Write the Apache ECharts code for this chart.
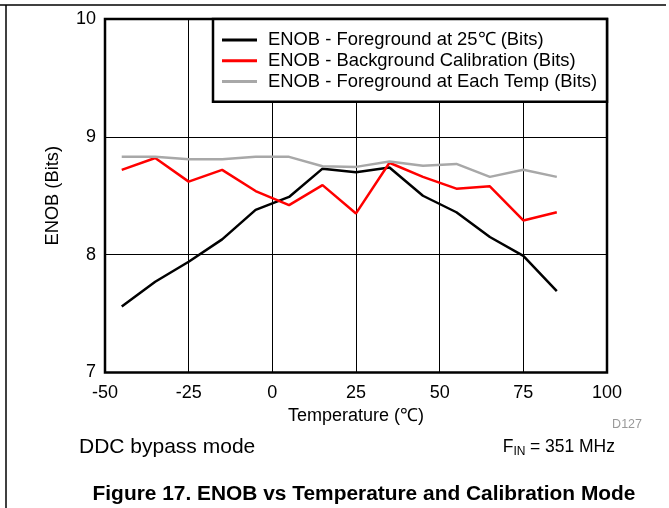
<!DOCTYPE html>
<html>
<head>
<meta charset="utf-8">
<script src="https://cdn.jsdelivr.net/npm/echarts@6/dist/echarts.min.js"></script>
<style>
html,body{margin:0;padding:0;background:#fff;}
#c{width:669px;height:508px;}
</style>
</head>
<body>
<div id="c"></div>
<script>
const temps = [-45, -35, -25, -15, -5, 5, 15, 25, 35, 45, 55, 65, 75, 85];
const fgAt25 = [7.56, 7.77, 7.94, 8.13, 8.38, 8.49, 8.73, 8.70, 8.74, 8.50, 8.36, 8.15, 7.99, 7.69];
const bgCal = [8.72, 8.82, 8.62, 8.72, 8.54, 8.42, 8.59, 8.35, 8.78, 8.66, 8.56, 8.58, 8.29, 8.36];
const fgEach = [8.83, 8.83, 8.81, 8.81, 8.83, 8.83, 8.75, 8.745, 8.79, 8.755, 8.77, 8.66, 8.72, 8.66];
const seriesNames = ['ENOB - Foreground at 25\u2103 (Bits)', 'ENOB - Background Calibration (Bits)', 'ENOB - Foreground at Each Temp (Bits)'];
const xTicks = [-50, -25, 0, 25, 50, 75, 100];
const yTicks = [7, 8, 9, 10];

const FONT = '"Liberation Sans", Arial, Helvetica, sans-serif';
const chart = echarts.init(document.getElementById('c'), null, {renderer: 'canvas'});
const pair = arr => temps.map((t, i) => [t, arr[i]]);
const colors = ['#000000', '#ff0000', '#a8a8a8'];
const datas = [fgAt25, bgCal, fgEach];

chart.setOption({
  animation: false,
  backgroundColor: '#fff',
  textStyle: {fontFamily: FONT},
  grid: {left: 105, right: 62, top: 19, bottom: 135.5, show: true, borderColor: '#000', borderWidth: 2.5, backgroundColor: 'transparent'},
  xAxis: {
    type: 'value', min: xTicks[0], max: xTicks[xTicks.length - 1], interval: 25,
    axisLine: {show: false}, axisTick: {show: false},
    axisLabel: {fontSize: 18, color: '#000', margin: 12, fontFamily: FONT},
    splitLine: {show: true, lineStyle: {color: '#000', width: 1}},
    name: 'Temperature (\u2103)', nameLocation: 'middle', nameGap: 31,
    nameTextStyle: {fontSize: 18, color: '#000', fontFamily: FONT}
  },
  yAxis: {
    type: 'value', min: yTicks[0], max: yTicks[yTicks.length - 1], interval: 1,
    axisLine: {show: false}, axisTick: {show: false},
    axisLabel: {fontSize: 18, color: '#000', margin: 9, fontFamily: FONT},
    splitLine: {show: true, lineStyle: {color: '#000', width: 1}},
    name: 'ENOB (Bits)', nameLocation: 'middle', nameGap: 43,
    nameTextStyle: {fontSize: 18.3, color: '#000', fontFamily: FONT}
  },
  legend: {
    show: true, orient: 'vertical', left: 222, top: 29.5, padding: 0, itemGap: 0,
    itemWidth: 35, itemHeight: 3, icon: 'rect', z: 10,
    textStyle: {fontSize: 18.4, color: '#000', lineHeight: 20.8, fontFamily: FONT, padding: [0, 0, 0, 6]},
    data: seriesNames
  },
  graphic: [
    {type: 'line', z: 10, shape: {x1: 0, y1: 5, x2: 666, y2: 5}, style: {stroke: '#000', lineWidth: 1.5}},
    {type: 'line', z: 10, shape: {x1: 6, y1: 5, x2: 6, y2: 508}, style: {stroke: '#000', lineWidth: 1.5}},
    {type: 'rect', z: 3, shape: {x: 213, y: 19, width: 394, height: 82.7}, style: {fill: '#fff', stroke: '#000', lineWidth: 2.5}},
    {type: 'text', z: 10, x: 642, y: 425, style: {text: 'D127', fill: '#999', font: '12.5px ' + FONT, textAlign: 'right', textVerticalAlign: 'middle'}},
    {type: 'text', z: 10, x: 79, y: 447, style: {text: 'DDC bypass mode', fill: '#000', font: '21px ' + FONT, textAlign: 'left', textVerticalAlign: 'middle'}},
    {type: 'text', z: 10, x: 615, y: 447, style: {text: '= 351 MHz', fill: '#000', font: '17.5px ' + FONT, textAlign: 'right', textVerticalAlign: 'middle'}},
    {type: 'text', z: 10, x: 525.5, y: 451.5, style: {text: 'IN', fill: '#000', font: '12px ' + FONT, textAlign: 'right', textVerticalAlign: 'middle'}},
    {type: 'text', z: 10, x: 513.5, y: 447, style: {text: 'F', fill: '#000', font: '17.5px ' + FONT, textAlign: 'right', textVerticalAlign: 'middle'}},
    {type: 'text', z: 10, x: 364, y: 494, style: {text: 'Figure 17. ENOB vs Temperature and Calibration Mode', fill: '#000', font: 'bold 20.9px ' + FONT, textAlign: 'center', textVerticalAlign: 'middle'}}
  ],
  series: seriesNames.map((n, k) => ({
    name: n, type: 'line', data: pair(datas[k]), symbol: 'none', z: 2,
    color: colors[k], lineStyle: {color: colors[k], width: 2.5}
  }))
});
</script>
</body>
</html>
